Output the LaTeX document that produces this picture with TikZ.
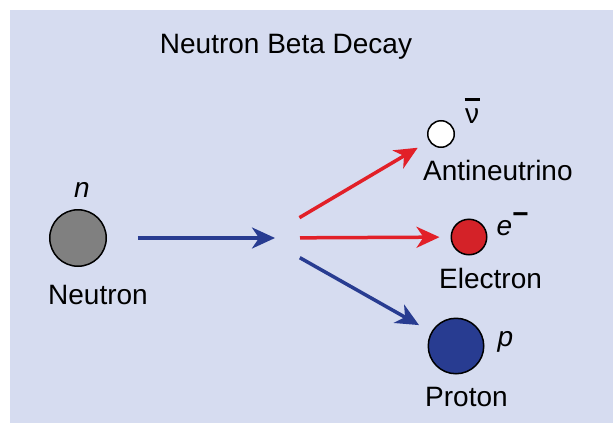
\documentclass[tikz,border=0pt]{standalone}
\usepackage{fontspec}
\setmainfont{Liberation Sans}
\usepackage{tikz}
\usetikzlibrary{arrows.meta,positioning}
\definecolor{PanelBg}{RGB}{214,220,240}
\definecolor{DecayRed}{RGB}{226,32,40}
\definecolor{ElecRed}{RGB}{212,34,40}
\definecolor{DecayBlue}{RGB}{40,60,145}
\definecolor{NeutronGray}{RGB}{128,128,128}
\newcommand{\nubar}{\ooalign{ν\cr\hidewidth\rule[0.8em]{0.55em}{0.09em}\hidewidth\cr}}

\begin{document}
\begin{tikzpicture}[x=1pt,y=-1pt,>=Stealth,every node/.style={font=\fontsize{28}{30}\selectfont,inner sep=0pt}]
\tikzset{particle/.style={circle,draw=black,line width=1.5pt,inner sep=0pt},
  decay/.style={line width=3.5pt,-{Stealth[length=23pt,width=21pt,inset=7pt]}}}
\useasboundingbox (0,0) rectangle (613,423);
\fill[PanelBg] (10,10) rectangle (613,423);
\node[anchor=base] (title) at (286,53) {Neutron Beta Decay};
% particles
\node[particle,fill=NeutronGray,minimum size=56.5pt] (neutron) at (78,238) {};
\node[particle,fill=white,minimum size=26.5pt] (antineutrino) at (441,134) {};
\node[particle,fill=ElecRed,minimum size=35.5pt] (electron) at (469,237) {};
\node[particle,fill=DecayBlue,minimum size=55.5pt] (proton) at (456,346) {};
% names and symbols
\node[below=18pt of neutron.south,anchor=north west,xshift=-30pt] (neutronlbl) {Neutron};
\node[below=12pt of antineutrino.south,anchor=north west,xshift=-18pt] (antineutrinolbl) {Antineutrino};
\node[below=12.5pt of electron.south,anchor=north west,xshift=-30pt] (electronlbl) {Electron};
\node[below=12.5pt of proton.south,anchor=north west,xshift=-31pt] (protonlbl) {Proton};
\node[above=11.5pt of neutron.north,anchor=base,xshift=4pt] (nsym) {\textit{n}};
\node[right=10pt of antineutrino.east,anchor=base west,yshift=11pt] (nusym) {\nubar};
\node[right=9pt of electron.east,anchor=base west,yshift=2pt] (esym) {\textit{e}\raisebox{0.41em}{\textbf{−}}};
\node[right=13pt of proton.east,anchor=base west] (psym) {\textit{p}};
% decay arrows
\coordinate (fan) at (265,238);
\coordinate (hit) at (275,238);
\draw[decay,DecayBlue,shorten <=30.75pt] (neutron) -- (hit);
\draw[decay,DecayRed,shorten <=40pt,shorten >=13pt] (fan) -- (antineutrino);
\draw[decay,DecayRed,shorten <=35pt,shorten >=11pt] (fan) -- (electron);
\draw[decay,DecayBlue,shorten <=40pt,shorten >=14pt] (fan) -- (proton);
\end{tikzpicture}
\end{document}
